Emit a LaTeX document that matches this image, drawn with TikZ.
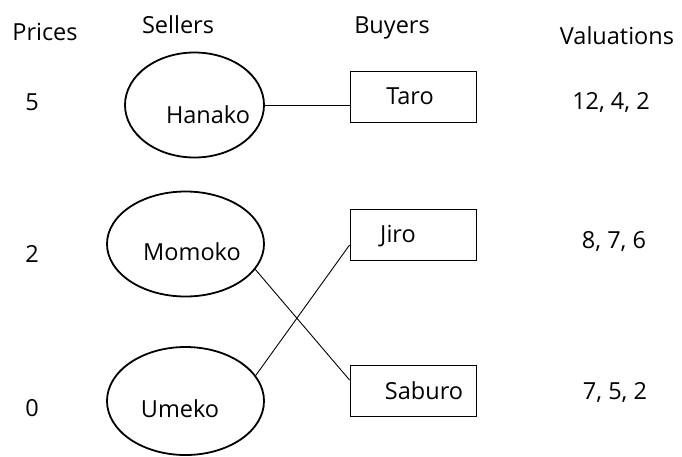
\documentclass[tikz,border=0pt]{standalone}
\usepackage{fontspec}
\setmainfont{Open Sans}
\usetikzlibrary{shapes.geometric}
\begin{document}
\begin{tikzpicture}[x=1pt,y=-1pt,
  lbl/.style={font=\fontsize{23.5}{27}\selectfont, inner sep=0pt},
  seller/.style={draw, line width=1.8pt, ellipse, minimum width=#1, minimum height=105pt, inner sep=0pt},
  buyer/.style={draw, line width=0.9pt, rectangle, minimum width=126pt, minimum height=51pt, inner sep=0pt},
  link/.style={line width=0.9pt}]
\useasboundingbox (0,0) rectangle (682,456);
% headers
\node[lbl] (hp) at (45,32) {Prices};
\node[lbl] (hs) at (178,25) {Sellers};
\node[lbl] (hb) at (392,28) {Buyers};
\node[lbl] (hv) at (617,36) {Valuations};
% prices
\node[lbl] (p5) at (32,102) {5};
\node[lbl] (p2) at (32,254) {2};
\node[lbl] (p0) at (32,408) {0};
% sellers
\node[seller=139pt] (hanako) at (194.5,105) {};
\node[seller=157pt] (momoko) at (185.5,244) {};
\node[seller=157pt, minimum height=108pt] (umeko) at (185.5,401) {};
\node[lbl] (thanako) at (208,115) {Hanako};
\node[lbl] (tmomoko) at (192,252) {Momoko};
\node[lbl] (tumeko) at (180,409) {Umeko};
% buyers
\node[buyer] (taro) at (413,96.5) {};
\node[buyer] (jiro) at (413,235) {};
\node[buyer] (saburo) at (413,391) {};
\node[lbl] (ttaro) at (410,96) {Taro};
\node[lbl] (tjiro) at (398,236) {Jiro};
\node[lbl] (tsaburo) at (424,391) {Saburo};
% valuations
\node[lbl] (v1) at (611,103) {12, 4, 2};
\node[lbl] (v2) at (614,241) {8, 7, 6};
\node[lbl] (v3) at (615,392) {7, 5, 2};
% links
\draw[link] (hanako.east) -- (hanako.east -| taro.west);
\draw[link] (momoko.-20) -- ([yshift=11pt]saburo.west);
\draw[link] (umeko.20) -- ([yshift=-10pt]jiro.west);
\end{tikzpicture}
\end{document}
